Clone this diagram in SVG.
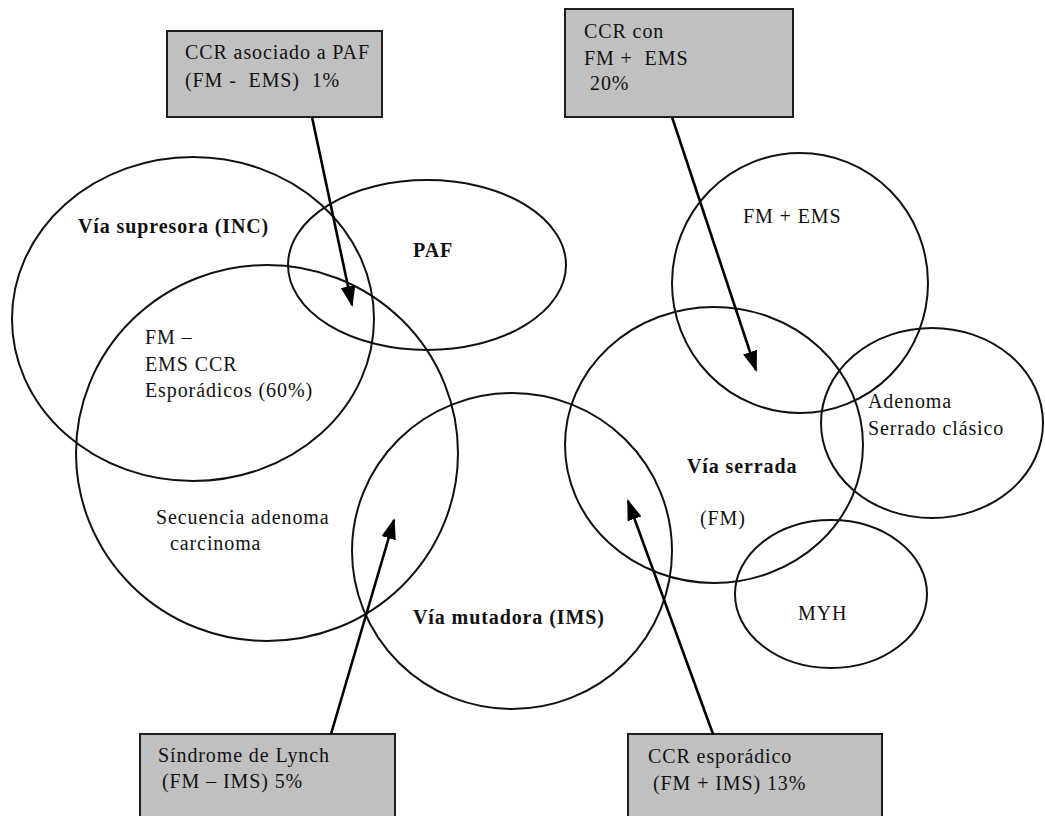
<svg xmlns="http://www.w3.org/2000/svg" width="1045" height="816" viewBox="0 0 1045 816">
<style>
.e{fill:none;stroke:#111;stroke-width:2}
.box{fill:#c0c0c0;stroke:#1e1e1e;stroke-width:2}
.t{font-family:"Liberation Serif","Times New Roman",serif;font-size:20px;fill:#111;letter-spacing:0.9px}
.b{font-weight:bold}
.c{stroke:#000;stroke-width:2.6;fill:none;marker-end:url(#ah)}
</style>
<defs>
<marker id="ah" viewBox="0 0 20 14" refX="18" refY="7" markerWidth="21" markerHeight="15" orient="auto" markerUnits="userSpaceOnUse">
<path d="M0,0 L20,7 L0,14 z" fill="#000"/>
</marker>
</defs>
<rect width="1045" height="816" fill="#fff"/>

<g id="via-supresora">
<ellipse class="e" cx="193" cy="319" rx="181" ry="162"/>
<text class="t b" x="78" y="233">Vía supresora (INC)</text>
</g>
<g id="esporadicos">
<ellipse class="e" cx="267" cy="453" rx="191" ry="188"/>
<text class="t" x="145" y="344">FM –</text>
<text class="t" x="145" y="371">EMS CCR</text>
<text class="t" x="145" y="397">Esporádicos (60%)</text>
<text class="t" x="156" y="524">Secuencia adenoma</text>
<text class="t" x="170" y="550">carcinoma</text>
</g>
<g id="paf">
<ellipse class="e" cx="427" cy="265" rx="139" ry="85"/>
<text class="t b" x="413" y="257">PAF</text>
</g>
<g id="via-mutadora">
<ellipse class="e" cx="512" cy="551" rx="160" ry="158"/>
<text class="t b" x="413" y="624">Vía mutadora (IMS)</text>
</g>
<g id="via-serrada">
<ellipse class="e" cx="714" cy="445" rx="149" ry="138"/>
<text class="t b" x="687" y="473">Vía serrada</text>
<text class="t" x="700" y="525">(FM)</text>
</g>
<g id="fm-ems">
<ellipse class="e" cx="800" cy="283" rx="128" ry="130"/>
<text class="t" x="743" y="223">FM + EMS</text>
</g>
<g id="adenoma-serrado">
<ellipse class="e" cx="932" cy="423" rx="111" ry="95"/>
<text class="t" x="868" y="408">Adenoma</text>
<text class="t" x="868" y="435">Serrado clásico</text>
</g>
<g id="myh">
<ellipse class="e" cx="831" cy="594" rx="96" ry="74"/>
<text class="t" x="798" y="620">MYH</text>
</g>

<g id="box-paf">
<rect class="box" x="167" y="31" width="215" height="86"/>
<text class="t" x="185" y="59">CCR asociado a PAF</text>
<text class="t" x="185" y="87" xml:space="preserve">(FM -  EMS)  1%</text>
</g>
<g id="box-fm-ems">
<rect class="box" x="565" y="9" width="228" height="108"/>
<text class="t" x="584" y="38">CCR con</text>
<text class="t" x="584" y="65" xml:space="preserve">FM +  EMS</text>
<text class="t" x="590" y="90">20%</text>
</g>
<g id="box-lynch">
<rect class="box" x="140" y="734" width="255" height="90"/>
<text class="t" x="158" y="762">Síndrome de Lynch</text>
<text class="t" x="162" y="788">(FM – IMS) 5%</text>
</g>
<g id="box-esporadico">
<rect class="box" x="628" y="734" width="254" height="90"/>
<text class="t" x="648" y="763">CCR esporádico</text>
<text class="t" x="653" y="790">(FM + IMS) 13%</text>
</g>

<g id="connectors">
<line class="c" x1="312" y1="117" x2="352" y2="305"/>
<line class="c" x1="672" y1="117" x2="756" y2="370"/>
<line class="c" x1="331" y1="734" x2="394" y2="520"/>
<line class="c" x1="713" y1="734" x2="628" y2="501"/>
</g>
</svg>
